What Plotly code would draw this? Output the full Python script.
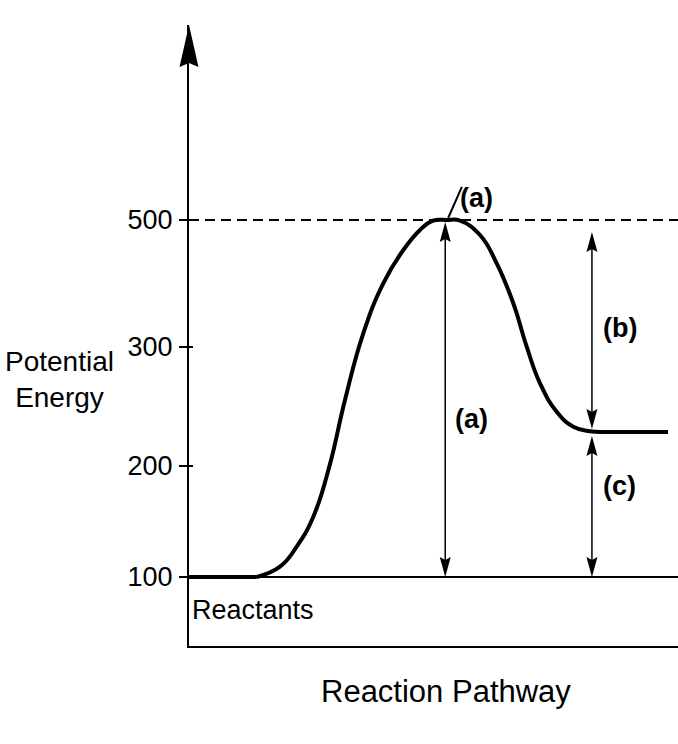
import numpy as np
import plotly.graph_objects as go

# energy scale of the drawing (ticks are not evenly spaced in the original)
energy_ticks = [100, 200, 300, 500]
tick_pos = [0.0, 1.0, 2.072, 3.216]
tick_labels = ["100", "200", "300", "500"]

# key levels
reactant_E = 100
product_E = 228.6
transition_E = 500

# reactant plateau and reaction pathway curve (x in arbitrary 0-100 units)
plateau_x = [0, 13.84]
path_x = [13.84, 18.61, 22.02, 25.42, 28.69, 31.90, 35.64, 39.73, 43.83, 47.24,
          49.90, 52.76, 55.42, 59.51, 62.92, 66.32, 69.06, 71.78, 75.19, 78.59,
          82.0, 86.0, 92.0, 97.96]
path_E = [100, 109.3, 127.3, 154.3, 199.4, 255.5, 321.5, 400.3, 452.8, 484.3,
          499, 500, 499, 476.4, 431.8, 368.9, 300.5, 269.5, 245.6, 233.0,
          229.2, 228.6, 228.6, 228.6]

arrow_a_x = 52.4
arrow_bc_x = 82.4


def disp(e):
    return float(np.interp(e, energy_ticks, tick_pos))


X_RANGE = [0, 100]
Y_RANGE = [-0.622, 4.973]
PLOT_W = 489
PLOT_H = 621
PX_X = PLOT_W / 100.0
PX_Y = PLOT_H / (Y_RANGE[1] - Y_RANGE[0])

FONT = "Liberation Sans, Arial, sans-serif"

fig = go.Figure()

fig.add_trace(go.Scatter(
    x=plateau_x, y=[disp(reactant_E)] * 2,
    mode="lines", line=dict(color="black", width=4),
    hoverinfo="skip", showlegend=False))
fig.add_trace(go.Scatter(
    x=path_x, y=[disp(e) for e in path_E],
    mode="lines", line=dict(color="black", width=4, shape="spline", smoothing=1.3),
    hoverinfo="skip", showlegend=False))

shapes = []


def head(x, y, up, length=20, width=11, notch=3):
    # filled arrowhead with tip at (x, y)
    s = 1 if up else -1
    by = y - s * length / PX_Y
    ny = y - s * (length - notch) / PX_Y
    hw = width / 2 / PX_X
    path = "M %f,%f L %f,%f L %f,%f L %f,%f Z" % (x, y, x - hw, by, x, ny, x + hw, by)
    shapes.append(dict(type="path", path=path, xref="x", yref="y",
                       fillcolor="black", line=dict(width=0)))


def double_arrow(x, y_lo, y_hi, gap_lo=0, gap_hi=0):
    lo = y_lo + gap_lo / PX_Y
    hi = y_hi - gap_hi / PX_Y
    shapes.append(dict(type="line", xref="x", yref="y", x0=x, x1=x,
                       y0=lo + 10 / PX_Y, y1=hi - 10 / PX_Y,
                       line=dict(color="black", width=1.5)))
    head(x, hi, True)
    head(x, lo, False)


# reactant level line and dashed transition state line
shapes.append(dict(type="line", xref="x", yref="y", x0=0, x1=100,
                   y0=disp(reactant_E), y1=disp(reactant_E),
                   line=dict(color="black", width=2)))
shapes.append(dict(type="line", xref="x", yref="y", x0=0, x1=100,
                   y0=disp(transition_E), y1=disp(transition_E),
                   line=dict(color="black", width=2, dash="10px,6px")))

double_arrow(arrow_a_x, disp(reactant_E), disp(transition_E), 0, 2)
double_arrow(arrow_bc_x, disp(product_E), disp(transition_E), 3, 12)
double_arrow(arrow_bc_x, disp(reactant_E), disp(product_E), 0, 4)

# y axis arrowhead (paper coords so it is not clipped)
hw = 9.5 / PLOT_W
shapes.append(dict(type="path", xref="paper", yref="paper",
                   path="M 0,1 L %f,%f L 0,%f L %f,%f Z" % (
                       -hw, 1 - 42 / PLOT_H, 1 - 38 / PLOT_H, hw, 1 - 42 / PLOT_H),
                   fillcolor="black", line=dict(width=0)))

# tick marks poke slightly inside the axis
for p in tick_pos[1:]:
    shapes.append(dict(type="line", xref="paper", yref="y", x0=0, x1=4 / PLOT_W,
                       y0=p, y1=p, line=dict(color="black", width=2)))

# pointer for top label
shapes.append(dict(type="line", xref="x", yref="y", x0=53.0, x1=55.8,
                   y0=disp(transition_E) + 2 / PX_Y, y1=3.514,
                   line=dict(color="black", width=2)))

label_font = dict(family=FONT, size=27, color="black")
bold_font = dict(family=FONT, size=27, color="black", weight="bold")

annotations = [
    dict(x=57.7, y=1.42, text="(a)", font=bold_font),
    dict(x=58.7, y=3.414, text="(a)", font=bold_font),
    dict(x=88.1, y=2.24, text="(b)", font=bold_font),
    dict(x=88.1, y=0.82, text="(c)", font=bold_font),
    dict(x=13.0, y=-0.30, text="Reactants", font=label_font),
    dict(x=52.6, yref="paper", y=-0.074, text="Reaction Pathway",
         font=dict(family=FONT, size=31, color="black")),
    dict(xref="paper", x=0, xshift=-129.5, y=1.775,
         text="Potential<br>Energy", font=dict(family=FONT, size=28, color="black"),
         align="center"),
]
for a in annotations:
    a.setdefault("xref", "x")
    a.setdefault("yref", "y")
    a["showarrow"] = False
    a["xanchor"] = "center"
    a["yanchor"] = "middle"

fig.update_layout(
    width=678, height=744,
    margin=dict(l=189, r=0, t=25, b=98),
    paper_bgcolor="white", plot_bgcolor="white",
    shapes=shapes, annotations=annotations,
    xaxis=dict(range=X_RANGE, showline=True, linecolor="black", linewidth=2,
               showticklabels=False, ticks="", showgrid=False, zeroline=False),
    yaxis=dict(range=Y_RANGE, showline=True, linecolor="black", linewidth=2,
               tickvals=tick_pos, ticktext=tick_labels, ticks="outside",
               ticklen=8, tickwidth=2, tickcolor="black", ticklabelstandoff=1,
               tickfont=dict(family=FONT, size=27, color="black"),
               showgrid=False, zeroline=False),
    showlegend=False,
)

fig.write_html("out.html", config={"displayModeBar": False},
               post_script="document.body.style.margin='0';"
                           "document.body.style.overflow='hidden';")
